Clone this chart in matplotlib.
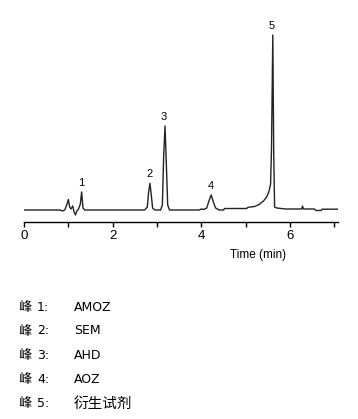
import matplotlib.pyplot as plt
import numpy as np

plt.rcParams['font.family'] = ['Liberation Sans', 'Noto Sans CJK SC', 'DejaVu Sans']

# chromatogram trace (signal in arbitrary units, baseline = 0)
time = [0, 0.82, 0.86, 0.92, 0.97, 1.00, 1.03, 1.06, 1.10, 1.13, 1.16, 1.19, 1.23, 1.27,
        1.30, 1.33, 1.37, 1.45, 2.72, 2.78, 2.81, 2.84, 2.87, 2.90, 2.95, 3.08, 3.12,
        3.15, 3.18, 3.21, 3.24, 3.28, 3.40, 3.95, 4.00, 4.05, 4.12, 4.17, 4.22, 4.27,
        4.32, 4.40, 4.50, 4.52, 5.02, 5.05, 5.20, 5.30, 5.40, 5.47, 5.52, 5.56, 5.58,
        5.61, 5.63, 5.65, 5.70, 5.90, 6.26, 6.28, 6.30, 6.55, 6.58, 6.70, 6.72, 7.08]
signal = [0, 0, -1, 0, 6, 10.5, 3, 1, 4, -2, -5, -1, 1, 6,
          18, 2, 0, 0, 0, 3, 18, 26.7, 15, 2, 0, 0, 5,
          55, 84, 45, 5, 0, 0, 0, 1, 0.5, 2, 9, 15, 8,
          2, 0, 0, 1.5, 1.5, 2.7, 3.5, 5.5, 9, 13, 18, 26, 60,
          175, 60, 3, 2, 1, 1, 4, 1, 1, -0.5, -0.5, 0.8, 0.8]

peak_labels = ['1', '2', '3', '4', '5']
peak_times = [1.28, 2.82, 3.16, 4.21, 5.58]
peak_heights = [18, 26.7, 84, 15, 175]

compounds = ['AMOZ', 'SEM', 'AHD', 'AOZ', '衍生试剂']

fig = plt.figure(figsize=(3.58, 4.19), dpi=100)
ax = fig.add_axes([24/358, 197/419, 314/358, 192/419])

ax.plot(time, signal, color='#222222', lw=1.0)

for lab, t, h in zip(peak_labels, peak_times, peak_heights):
    ax.text(t, h + 4, lab, ha='center', va='bottom', fontsize=8)

ax.set_xlim(0, 7.08)
ax.set_ylim(-12, 180)
for s in ['top', 'left', 'right']:
    ax.spines[s].set_visible(False)
ax.spines['bottom'].set_linewidth(1)
ax.set_yticks([])
ax.set_xticks([0, 2, 4, 6])
ax.set_xticks([1, 3, 5, 7], minor=True)
ax.tick_params(axis='x', which='both', direction='out', length=3.5, width=1, pad=2, labelsize=9.5)

fig.text(258/358, 1 - 255/419, 'Time (min)', ha='center', va='center', fontsize=8.5)

for i, name in enumerate(compounds):
    y = 1 - (307 + i * 24) / 419
    fig.text(18/358, y, '峰', ha='left', va='center', fontsize=9.5,
             family=['Noto Sans CJK SC'])
    fig.text(37/358, y, '%d:' % (i + 1), ha='left', va='center', fontsize=9,
             family=['DejaVu Sans'])
    size = 9 if name.isascii() else 10.5
    fig.text(74/358, y, name, ha='left', va='center', fontsize=size,
             family=['DejaVu Sans', 'Noto Sans CJK SC'])

fig.savefig('out.png', dpi=100)
